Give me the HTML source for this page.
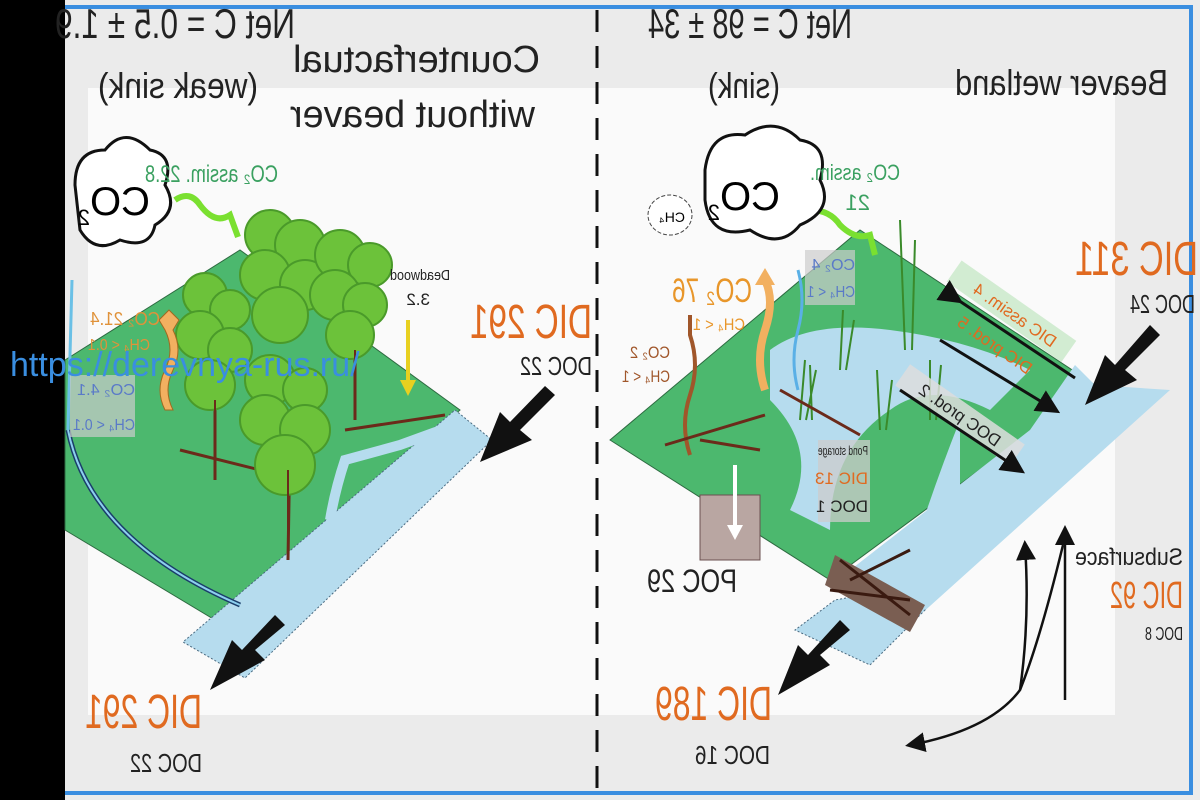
<!DOCTYPE html>
<html><head><meta charset="utf-8"><style>
html,body{margin:0;padding:0;background:#000;}
svg{display:block;font-family:"Liberation Sans",sans-serif;}
</style></head><body>
<svg width="1200" height="800" viewBox="0 0 1200 800" xmlns="http://www.w3.org/2000/svg">
<defs>
<marker id="ah" markerWidth="8" markerHeight="8" refX="6" refY="4" orient="auto"><path d="M0,0 L8,4 L0,8 z" fill="#111"/></marker>
</defs>
<rect x="0" y="0" width="1200" height="800" fill="#000"/>
<rect x="65" y="0" width="1135" height="800" fill="#ebebeb"/>
<rect x="88" y="88" width="1027" height="627" fill="#fafafa"/>
<rect x="65" y="5" width="1128" height="4" fill="#3a8ee0"/>
<rect x="65" y="791" width="1128" height="4" fill="#3a8ee0"/>
<rect x="1189" y="5" width="4" height="790" fill="#3a8ee0"/>
<line x1="597" y1="10" x2="597" y2="790" stroke="#111" stroke-width="3" stroke-dasharray="22,14"/>

<!-- LEFT PANEL -->
<polygon points="65,360 240,250 460,410 215,620 65,530" fill="#4cb86e" stroke="#2d6a40" stroke-width="1"/>
<polygon points="455,410 492,440 245,678 183,642" fill="#b6dcee" stroke="#4a6a80" stroke-width="1" stroke-dasharray="2,2"/>
<path d="M330,520 Q335,490 345,460 L400,445 L455,425" stroke="#b6dcee" stroke-width="10" fill="none"/>
<path d="M68,430 Q90,540 240,605" stroke="#1a3d6a" stroke-width="5" fill="none"/>
<path d="M68,430 Q90,540 240,605" stroke="#8ccfee" stroke-width="2" fill="none"/>
<path d="M68,430 L72,280" stroke="#6ac0e6" stroke-width="3" fill="none"/>
<g stroke="#6b2a1a" stroke-width="3">
<line x1="355" y1="330" x2="355" y2="420"/>
<line x1="215" y1="380" x2="215" y2="480"/>
<line x1="290" y1="440" x2="288" y2="560"/>
<line x1="180" y1="450" x2="260" y2="470"/>
<line x1="345" y1="430" x2="445" y2="415"/>
</g>
<g fill="#6cc23a" stroke="#4a9a2a" stroke-width="2">
<circle cx="270" cy="235" r="25"/><circle cx="300" cy="245" r="25"/><circle cx="265" cy="275" r="25"/><circle cx="305" cy="285" r="25"/><circle cx="280" cy="315" r="28"/>
<circle cx="340" cy="255" r="25"/><circle cx="370" cy="265" r="22"/><circle cx="335" cy="295" r="25"/><circle cx="365" cy="305" r="22"/><circle cx="350" cy="335" r="24"/>
<circle cx="205" cy="295" r="22"/><circle cx="230" cy="310" r="20"/><circle cx="200" cy="335" r="24"/><circle cx="230" cy="350" r="22"/><circle cx="210" cy="385" r="25"/>
<circle cx="270" cy="380" r="25"/><circle cx="305" cy="390" r="22"/><circle cx="265" cy="420" r="25"/><circle cx="305" cy="430" r="25"/><circle cx="285" cy="465" r="30"/>
</g>
<g stroke="#6b2a1a" stroke-width="2"><line x1="288" y1="470" x2="288" y2="560"/><line x1="215" y1="400" x2="215" y2="480"/><line x1="355" y1="350" x2="355" y2="420"/></g>
<path d="M165,410 q-10,-20 0,-40 q10,-20 0,-40 l-6,-10 l10,-10 l10,10 l-6,10 q10,20 0,40 q-10,20 0,40z" fill="#f2b060" stroke="#a06a20"/>
<line x1="408" y1="320" x2="408" y2="385" stroke="#e8d020" stroke-width="4"/>
<polygon points="400,380 416,380 408,396" fill="#e8d020"/>
<path d="M175,200 q15,-10 25,5 q15,20 30,10 l8,22" stroke="#7ae030" stroke-width="6" fill="none"/>
<path d="M75,185 q0,-35 30,-35 q20,-25 45,0 q25,5 15,35 q15,25 -10,40 q-5,25 -35,15 q-25,15 -40,-10z" fill="#fff" stroke="#111" stroke-width="3"/>
<text transform="translate(150,215) scale(-1,1)" font-size="40">CO<tspan font-size="22" dy="10">2</tspan></text>
<rect x="70" y="375" width="65" height="62" fill="#ccc" opacity="0.7"/>
<text transform="translate(135,395) scale(-1,1)" font-size="16" fill="#5a7ac8" textLength="58" lengthAdjust="spacingAndGlyphs">CO₂ 4.1</text>
<text transform="translate(135,430) scale(-1,1)" font-size="16" fill="#5a7ac8" textLength="62" lengthAdjust="spacingAndGlyphs">CH₄ &lt; 0.1</text>
<text transform="translate(160,325) scale(-1,1)" font-size="18" fill="#e0923a" textLength="70" lengthAdjust="spacingAndGlyphs">CO₂ 21.4</text>
<text transform="translate(150,350) scale(-1,1)" font-size="16" fill="#e0923a" textLength="62" lengthAdjust="spacingAndGlyphs">CH₄ &lt; 0.1</text>

<polygon points="555,395 520,430 532,440 480,462 500,412 510,422 545,386" fill="#111"/>
<polygon points="285,625 255,650 265,660 210,690 232,640 242,650 275,615" fill="#111"/>

<text transform="translate(295,38) scale(-1,1)" font-size="42" fill="#222" textLength="240" lengthAdjust="spacingAndGlyphs">Net C = 0.5 ± 1.9</text>
<text transform="translate(258,98) scale(-1,1)" font-size="36" fill="#222" textLength="160" lengthAdjust="spacingAndGlyphs">(weak sink)</text>
<text transform="translate(540,72) scale(-1,1)" font-size="38" fill="#222" textLength="247" lengthAdjust="spacingAndGlyphs">Counterfactual</text>
<text transform="translate(535,127) scale(-1,1)" font-size="38" fill="#222" textLength="245" lengthAdjust="spacingAndGlyphs">without beaver</text>
<text transform="translate(278,182) scale(-1,1)" font-size="24" fill="#3aa060" textLength="133" lengthAdjust="spacingAndGlyphs">CO₂ assim. 22.8</text>
<text transform="translate(450,280) scale(-1,1)" font-size="15" fill="#222" textLength="60" lengthAdjust="spacingAndGlyphs">Deadwood</text>
<text transform="translate(430,305) scale(-1,1)" font-size="17" fill="#222">3.2</text>
<text transform="translate(592,338) scale(-1,1)" font-size="48" fill="#e06a20" textLength="122" lengthAdjust="spacingAndGlyphs">DIC 291</text>
<text transform="translate(592,375) scale(-1,1)" font-size="26" fill="#222" textLength="72" lengthAdjust="spacingAndGlyphs">DOC 22</text>
<text transform="translate(202,728) scale(-1,1)" font-size="48" fill="#e06a20" textLength="117" lengthAdjust="spacingAndGlyphs">DIC 291</text>
<text transform="translate(202,772) scale(-1,1)" font-size="26" fill="#222" textLength="72" lengthAdjust="spacingAndGlyphs">DOC 22</text>

<!-- RIGHT PANEL -->
<polygon points="610,440 860,230 1095,385 830,580" fill="#4cb86e" stroke="#2d6a40" stroke-width="1"/>
<polygon points="1075,365 1095,385 1170,390 920,615 840,578 1030,430" fill="#b6dcee"/>
<polygon points="890,590 925,610 870,665 795,630 835,600" fill="#b6dcee" stroke="#4a6a80" stroke-width="1" stroke-dasharray="2,2"/>
<path d="M770,350 q40,-30 120,-20 q80,10 140,40 l-40,40 q-60,-30 -100,0 q-60,40 -60,120 l-40,-20 q30,-60 -20,-110z" fill="#b6dcee"/>
<path d="M960,420 q-20,50 -40,110 l40,-20z" fill="#b6dcee"/>
<rect x="700" y="495" width="60" height="65" fill="#b9a6a2" stroke="#6a5050"/>
<line x1="735" y1="465" x2="735" y2="530" stroke="#fff" stroke-width="4"/>
<polygon points="727,525 743,525 735,540" fill="#fff"/>
<polygon points="835,555 925,605 910,632 825,585" fill="#7a5e52"/>
<path d="M840,560 l70,55 M850,580 l60,-30 M830,590 l80,10" stroke="#3a1a10" stroke-width="3"/>
<g stroke="#3a8a2a" stroke-width="2" fill="none">
<path d="M800,420 l5,-60 M806,420 l10,-50 M812,420 l-2,-55"/>
<path d="M840,370 l3,-60 M846,370 l8,-50"/>
<path d="M880,430 l-3,-60 M886,430 l6,-50"/>
<path d="M905,350 l-5,-130 M912,350 l3,-110"/>
<path d="M930,420 l0,-60 M936,420 l5,-55"/>
</g>
<path d="M690,455 q-10,-30 0,-60 q10,-30 0,-60 l0,-20" stroke="#a0562a" stroke-width="4" fill="none"/>
<path d="M665,445 l100,-30 M700,440 l60,10 M780,390 l80,45" stroke="#6b2a1a" stroke-width="3"/>
<path d="M765,390 q-10,-30 0,-60 q10,-30 0,-50" stroke="#f2b060" stroke-width="8" fill="none"/>
<polygon points="755,285 775,285 765,268" fill="#f2b060"/>
<path d="M798,390 q-8,-30 0,-60 q8,-30 0,-60" stroke="#5ab0e6" stroke-width="3" fill="none"/>
<path d="M810,210 q20,0 30,15 q15,15 30,10 l5,20" stroke="#7ae030" stroke-width="6" fill="none"/>
<path d="M705,170 q5,-40 40,-35 q30,-20 55,5 q30,5 20,40 q15,30 -20,45 q-20,25 -50,5 q-40,10 -45,-30z" fill="#fff" stroke="#111" stroke-width="3"/>
<text transform="translate(780,210) scale(-1,1)" font-size="40">CO<tspan font-size="22" dy="10">2</tspan></text>
<ellipse cx="670" cy="215" rx="22" ry="20" fill="#fff" stroke="#444" stroke-dasharray="4,2"/>
<text transform="translate(685,222) scale(-1,1)" font-size="14">CH₄</text>
<rect x="805" y="250" width="50" height="55" fill="#ccc" opacity="0.7"/>
<text transform="translate(855,270) scale(-1,1)" font-size="16" fill="#5a7ac8">CO₂ 4</text>
<text transform="translate(855,297) scale(-1,1)" font-size="16" fill="#5a7ac8" textLength="48" lengthAdjust="spacingAndGlyphs">CH₄ &lt; 1</text>
<text transform="translate(752,302) scale(-1,1)" font-size="34" fill="#e8962a" textLength="80" lengthAdjust="spacingAndGlyphs">CO₂ 76</text>
<text transform="translate(745,330) scale(-1,1)" font-size="17" fill="#e8962a" textLength="52" lengthAdjust="spacingAndGlyphs">CH₄ &lt; 1</text>
<text transform="translate(670,358) scale(-1,1)" font-size="17" fill="#a0562a" textLength="40" lengthAdjust="spacingAndGlyphs">CO₂ 2</text>
<text transform="translate(670,382) scale(-1,1)" font-size="17" fill="#a0562a" textLength="48" lengthAdjust="spacingAndGlyphs">CH₄ &lt; 1</text>
<rect x="818" y="440" width="52" height="82" fill="#ccc" opacity="0.75"/>
<text transform="translate(868,455) scale(-1,1)" font-size="13" fill="#222" textLength="50" lengthAdjust="spacingAndGlyphs">Pond storage</text>
<text transform="translate(868,484) scale(-1,1)" font-size="17" fill="#e06a20">DIC 13</text>
<text transform="translate(868,512) scale(-1,1)" font-size="17" fill="#222">DOC 1</text>
<g transform="translate(1015,315) rotate(35)">
<rect x="-75" y="-14" width="140" height="26" fill="#c8e8c8" opacity="0.8"/>
<text transform="scale(-1,1)" text-anchor="middle" font-size="17" fill="#e06a20" y="6">DIC assim. 4</text>
</g>
<g transform="translate(995,345) rotate(35)">
<text transform="scale(-1,1)" text-anchor="middle" font-size="17" fill="#e06a20" y="6">DIC prod. 5</text>
</g>
<g transform="translate(960,415) rotate(35)">
<rect x="-70" y="-13" width="140" height="26" fill="#ddd" opacity="0.85"/>
<text transform="scale(-1,1)" text-anchor="middle" font-size="17" fill="#222" y="6">DOC prod. 2</text>
</g>
<line x1="958" y1="300" x2="1075" y2="378" stroke="#111" stroke-width="3" marker-start="url(#ah)"/>
<line x1="940" y1="340" x2="1055" y2="410" stroke="#111" stroke-width="3" marker-end="url(#ah)"/>
<line x1="900" y1="390" x2="1020" y2="470" stroke="#111" stroke-width="3" marker-end="url(#ah)"/>
<polygon points="1160,335 1125,370 1137,380 1085,405 1105,355 1115,365 1150,325" fill="#111"/>
<polygon points="850,630 820,655 830,665 778,695 798,645 808,655 840,620" fill="#111"/>
<path d="M1065,700 L1065,530" stroke="#111" stroke-width="2.5" fill="none" marker-end="url(#ah)"/>
<path d="M1063,545 Q1040,640 1020,690 Q990,730 910,745" stroke="#111" stroke-width="2.5" fill="none" marker-end="url(#ah)"/>
<path d="M1020,690 Q1030,620 1025,545" stroke="#111" stroke-width="2.5" fill="none" marker-end="url(#ah)"/>

<text transform="translate(852,38) scale(-1,1)" font-size="42" fill="#222" textLength="204" lengthAdjust="spacingAndGlyphs">Net C = 98 ± 34</text>
<text transform="translate(780,98) scale(-1,1)" font-size="36" fill="#222" textLength="72" lengthAdjust="spacingAndGlyphs">(sink)</text>
<text transform="translate(1168,95) scale(-1,1)" font-size="36" fill="#222" textLength="213" lengthAdjust="spacingAndGlyphs">Beaver wetland</text>
<text transform="translate(900,180) scale(-1,1)" font-size="22" fill="#3aa060" textLength="90" lengthAdjust="spacingAndGlyphs">CO₂ assim.</text>
<text transform="translate(870,210) scale(-1,1)" font-size="22" fill="#3aa060">21</text>
<text transform="translate(1198,275) scale(-1,1)" font-size="48" fill="#e06a20" textLength="123" lengthAdjust="spacingAndGlyphs">DIC 311</text>
<text transform="translate(1195,313) scale(-1,1)" font-size="26" fill="#222" textLength="65" lengthAdjust="spacingAndGlyphs">DOC 24</text>
<text transform="translate(737,592) scale(-1,1)" font-size="32" fill="#222" textLength="90" lengthAdjust="spacingAndGlyphs">POC 29</text>
<text transform="translate(1183,565) scale(-1,1)" font-size="24" fill="#222" textLength="108" lengthAdjust="spacingAndGlyphs">Subsurface</text>
<text transform="translate(1183,608) scale(-1,1)" font-size="38" fill="#e06a20" textLength="73" lengthAdjust="spacingAndGlyphs">DIC 92</text>
<text transform="translate(1183,640) scale(-1,1)" font-size="18" fill="#222" textLength="38" lengthAdjust="spacingAndGlyphs">DOC 8</text>
<text transform="translate(772,720) scale(-1,1)" font-size="48" fill="#e06a20" textLength="117" lengthAdjust="spacingAndGlyphs">DIC 189</text>
<text transform="translate(770,764) scale(-1,1)" font-size="26" fill="#222" textLength="75" lengthAdjust="spacingAndGlyphs">DOC 16</text>

<text x="10" y="376" font-size="34" fill="#3a8ee0">https://derevnya-rus.ru/</text>
</svg>
</body></html>
